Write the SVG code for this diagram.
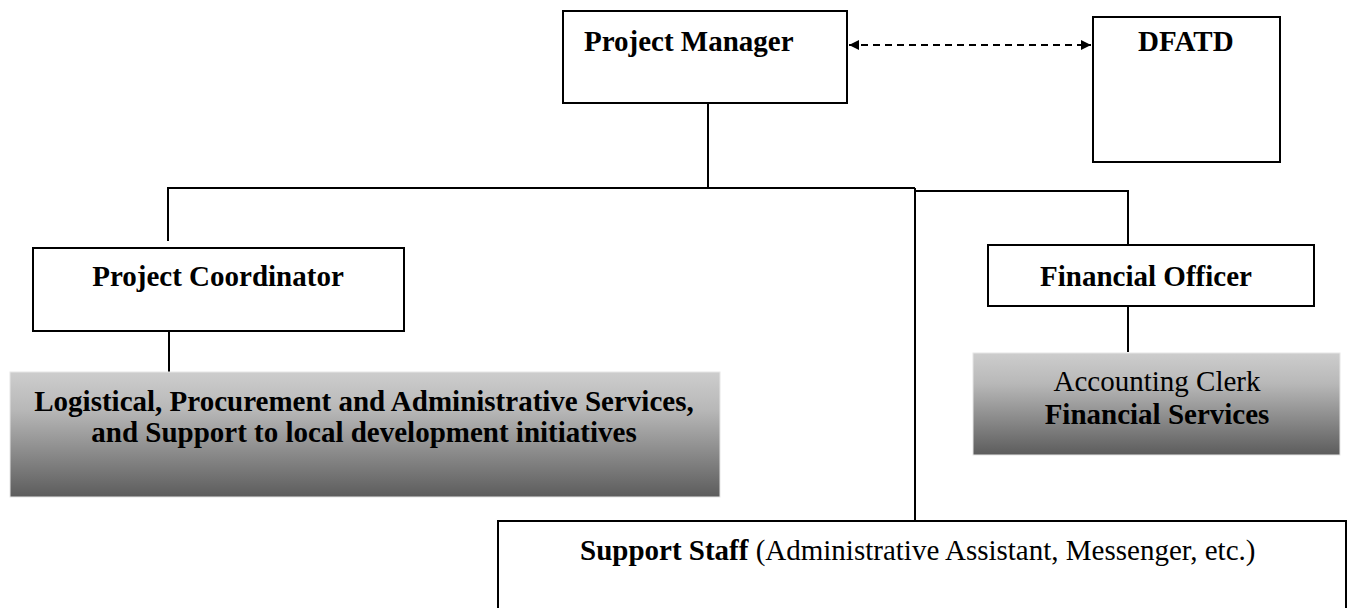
<svg xmlns="http://www.w3.org/2000/svg" width="1348" height="608" viewBox="0 0 1348 608">
<defs>
<style>
.box{fill:#fff;stroke:#000;stroke-width:2}
.grad{fill:url(#g);stroke:#e6e6e6;stroke-width:1}
.t{font-family:"Liberation Serif","Times New Roman",serif;font-size:29px;fill:#000}
.b{font-weight:bold}
.c{fill:none;stroke:#000;stroke-width:2}
.d{fill:none;stroke:#000;stroke-width:2;stroke-dasharray:7 5}
</style>
<linearGradient id="g" x1="0" y1="0" x2="0" y2="1">
<stop offset="0" stop-color="#cdcdcd"/>
<stop offset="0.3" stop-color="#b8b8b8"/>
<stop offset="1" stop-color="#5c5c5c"/>
</linearGradient>
<marker id="ah" viewBox="0 0 10 10" refX="10" refY="5" markerWidth="6" markerHeight="5" orient="auto-start-reverse" markerUnits="strokeWidth">
<path d="M0,0 L10,5 L0,10 z" fill="#000"/>
</marker>
</defs>
<g id="connectors">
<line class="d" x1="849" y1="45" x2="1091" y2="45" marker-start="url(#ah)" marker-end="url(#ah)"/>
<line class="c" x1="708" y1="103" x2="708" y2="188"/>
<polyline class="c" points="168,241 168,188 915,188"/>
<polyline class="c" points="915,191 1128,191 1128,245"/>
<line class="c" x1="915" y1="188" x2="915" y2="521"/>
<line class="c" x1="169" y1="331" x2="169" y2="372"/>
<line class="c" x1="1128" y1="306" x2="1128" y2="352"/>
</g>
<g id="project-manager">
<rect class="box" x="563" y="11" width="284" height="92"/>
<text class="t b" x="584" y="51">Project Manager</text>
</g>
<g id="dfatd">
<rect class="box" x="1093" y="17" width="187" height="145"/>
<text class="t b" x="1138" y="51">DFATD</text>
</g>
<g id="project-coordinator">
<rect class="box" x="33" y="248" width="371" height="83"/>
<text class="t b" x="218" y="286" text-anchor="middle">Project Coordinator</text>
</g>
<g id="financial-officer">
<rect class="box" x="988" y="245" width="326" height="61"/>
<text class="t b" x="1146" y="286" text-anchor="middle">Financial Officer</text>
</g>
<g id="logistical">
<rect class="grad" x="10" y="372" width="710" height="125"/>
<text class="t b" x="364" y="411" text-anchor="middle">Logistical, Procurement and Administrative Services,</text>
<text class="t b" x="364" y="442" text-anchor="middle">and Support to local development initiatives</text>
</g>
<g id="accounting">
<rect class="grad" x="973" y="353" width="367" height="102"/>
<text class="t" x="1157" y="391" text-anchor="middle">Accounting Clerk</text>
<text class="t b" x="1157" y="424" text-anchor="middle">Financial Services</text>
</g>
<g id="support-staff">
<rect class="box" x="498" y="521" width="848" height="100"/>
<text class="t" x="580" y="560"><tspan class="b">Support Staff</tspan> (Administrative Assistant, Messenger, etc.)</text>
</g>
</svg>
